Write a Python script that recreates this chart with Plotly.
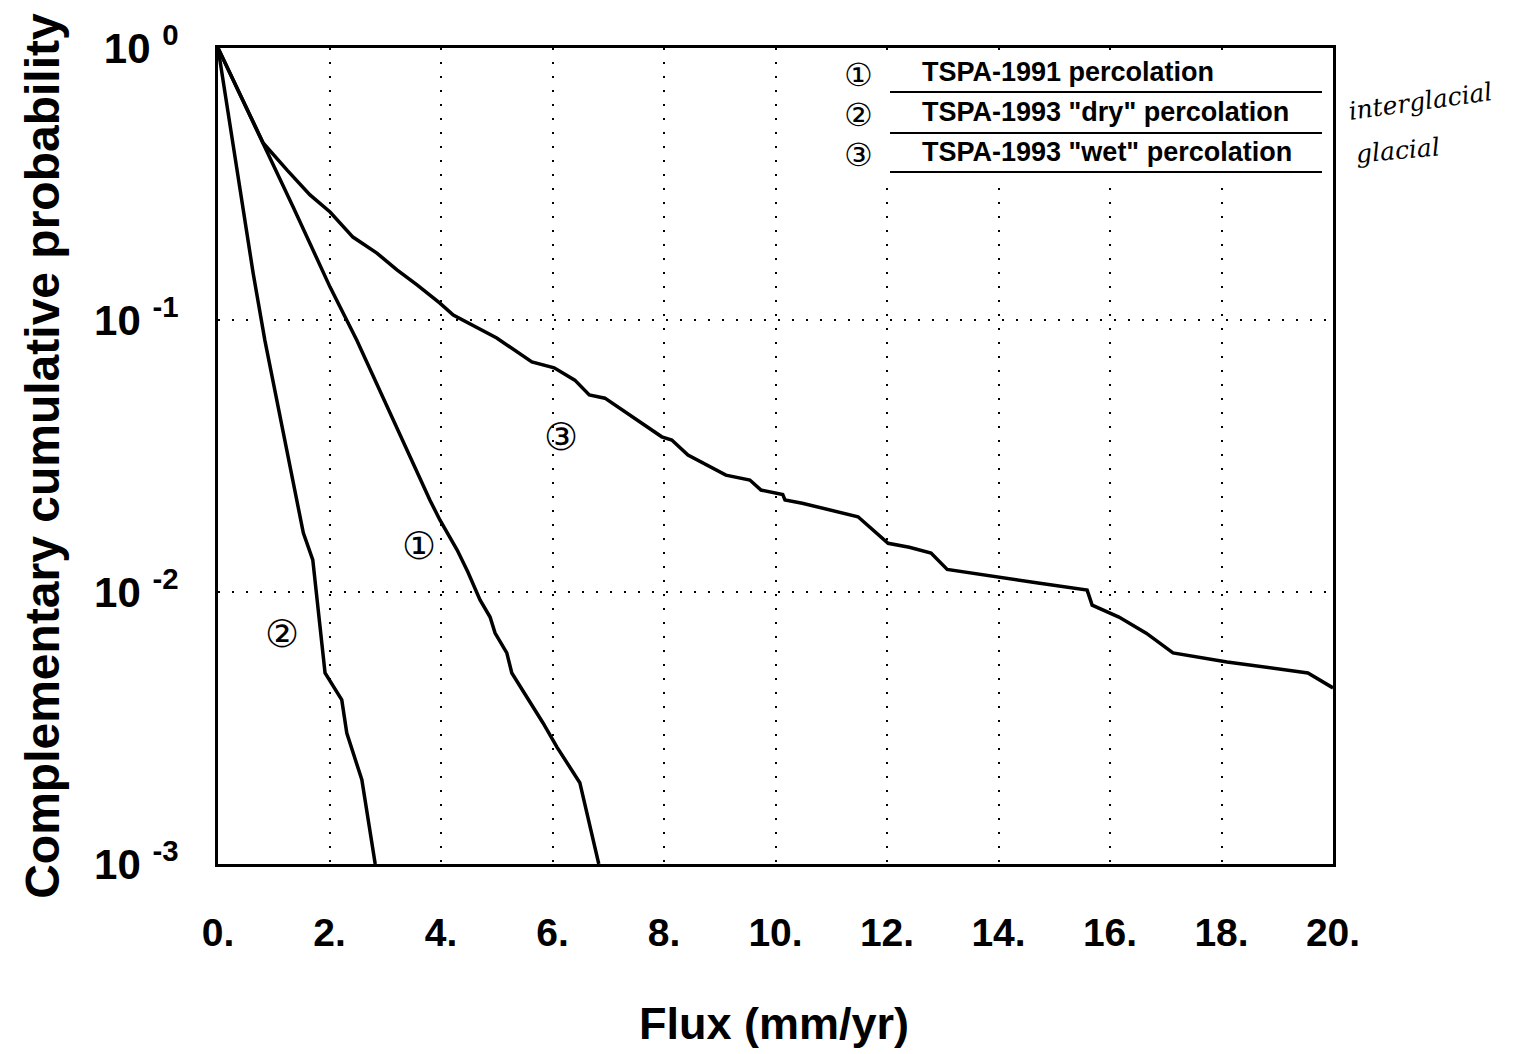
import math
import plotly.graph_objects as go

# ---------------- data ----------------
series_names = ['TSPA-1991 percolation', 'TSPA-1993 "dry" percolation', 'TSPA-1993 "wet" percolation']
series_marks = ["①", "②", "③"]

flux_1991 = [0, 0.81, 1.35, 2.01, 2.49, 3.80, 3.98, 4.29, 4.48, 4.70, 4.88, 4.97,
             5.18, 5.27, 5.54, 5.83, 6.08, 6.49, 6.83]
ccdf_1991 = [1.0, 0.4477, 0.2600, 0.1321, 0.0843, 0.0218, 0.0184, 0.01426, 0.01186,
             0.00935, 0.00809, 0.00706, 0.00597, 0.00504, 0.00411, 0.00330, 0.00269,
             0.00199, 0.001]

flux_dry = [0, 0.40, 0.63, 0.84, 1.42, 1.53, 1.70, 1.78, 1.87, 1.92, 2.22, 2.31, 2.58, 2.82]
ccdf_dry = [1.0, 0.3006, 0.1489, 0.0843, 0.0218, 0.0165, 0.01312, 0.00935, 0.00628,
            0.00504, 0.00401, 0.00303, 0.00204, 0.001]

flux_wet = [0, 0.81, 1.24, 1.65, 2.01, 2.42, 2.85, 3.21, 3.57, 3.98, 4.22, 4.65, 5.00,
            5.63, 6.03, 6.40, 6.66, 6.94, 7.37, 7.96, 8.14, 8.43, 9.11, 9.54, 9.74,
            10.13, 10.17, 10.48, 11.48, 11.82, 12.02, 12.40, 12.79, 13.08, 13.94,
            14.71, 15.59, 15.68, 16.16, 16.65, 17.13, 18.10, 19.55, 20.0]
ccdf_wet = [1.0, 0.4477, 0.3556, 0.2884, 0.2495, 0.2018, 0.1762, 0.1528, 0.1346,
            0.1153, 0.1042, 0.0935, 0.0859, 0.0701, 0.0667, 0.0601, 0.0530, 0.0516,
            0.0448, 0.0372, 0.0362, 0.0319, 0.0269, 0.0258, 0.0237, 0.0228, 0.0218,
            0.0212, 0.0189, 0.0165, 0.0151, 0.0146, 0.0139, 0.0121, 0.01135, 0.01079,
            0.01016, 0.00895, 0.00809, 0.00706, 0.00597, 0.00553, 0.00504, 0.00444]

x_tickvals = [0, 2, 4, 6, 8, 10, 12, 14, 16, 18, 20]
x_ticktext = ["0.", "2.", "4.", "6.", "8.", "10.", "12.", "14.", "16.", "18.", "20."]
y_tickvals = [0.001, 0.01, 0.1, 1]
y_ticktext = ["10 <sup>-3</sup>", "10 <sup>-2</sup>", "10 <sup>-1</sup>", "10 <sup>0</sup>"]

# in-plot curve labels (data coords: flux, probability)
curve_label_x = [3.6, 1.15, 6.15]
curve_label_y = [0.0148, 0.0070, 0.037]

notes = ["interglacial", "glacial"]

# ---------------- figure ----------------
FONT = "Liberation Sans, Arial, Helvetica, sans-serif"
fig = go.Figure()
for xs, ys, name in [(flux_1991, ccdf_1991, series_names[0]),
                     (flux_dry, ccdf_dry, series_names[1]),
                     (flux_wet, ccdf_wet, series_names[2])]:
    fig.add_trace(go.Scatter(x=xs, y=ys, mode="lines", name=name,
                             line=dict(color="black", width=3.5), showlegend=False))

fig.update_layout(
    width=1532, height=1054,
    margin=dict(l=218, r=199, t=48, b=190),
    paper_bgcolor="white", plot_bgcolor="white",
    font=dict(family=FONT, color="black"),
)
fig.update_xaxes(
    range=[0, 20], tickvals=x_tickvals, ticktext=x_ticktext,
    tickfont=dict(family=FONT, size=39, weight="bold", color="black"),
    ticks="", ticklabelstandoff=32,
    showgrid=True, gridcolor="black", gridwidth=2, griddash="2px,12px",
    showline=True, linecolor="black", linewidth=3, mirror=True, zeroline=False,
)
fig.update_yaxes(
    type="log", range=[-3, 0], tickvals=y_tickvals, ticktext=y_ticktext,
    tickfont=dict(family=FONT, size=42, weight="bold", color="black"),
    ticks="", ticklabelstandoff=28,
    showgrid=True, gridcolor="black", gridwidth=2, griddash="2px,12px",
    showline=True, linecolor="black", linewidth=3, mirror=True, zeroline=False,
)

annotations = []
# axis titles
annotations.append(dict(text="<b>Flux (mm/yr)</b>", xref="paper", yref="paper",
                        x=0.4985, y=-0.195, xanchor="center", yanchor="middle",
                        showarrow=False, font=dict(family=FONT, size=45)))
annotations.append(dict(text="<b>Complementary cumulative probability</b>", xref="paper",
                        yref="paper", x=-0.158, y=0.5, xanchor="center", yanchor="middle",
                        textangle=-90, showarrow=False, font=dict(family=FONT, size=48)))

# legend: white box hiding grid, text with underline line samples
shapes = [dict(type="rect", xref="paper", yref="paper", x0=0.558, x1=0.996,
               y0=0.832, y1=0.997, fillcolor="white", line=dict(width=0),
               layer="above")]
leg_text_y = [0.9706, 0.9216, 0.8725]
leg_line_y = [0.9461, 0.8958, 0.8480]
for i, name in enumerate(series_names):
    annotations.append(dict(text="<b>" + name + "</b>", xref="paper",
                            yref="paper", x=0.6296, y=leg_text_y[i], xanchor="left",
                            yanchor="middle", showarrow=False,
                            font=dict(family=FONT, size=27)))
    annotations.append(dict(text=series_marks[i], xref="paper", yref="paper",
                            x=0.574, y=leg_text_y[i] - 0.004, xanchor="center",
                            yanchor="middle", showarrow=False,
                            font=dict(family="DejaVu Sans", size=32)))
    shapes.append(dict(type="line", xref="paper", yref="paper", x0=0.6027, x1=0.9901,
                       y0=leg_line_y[i], y1=leg_line_y[i],
                       line=dict(color="black", width=2), layer="above"))

# hand-written curve labels
for i in range(3):
    annotations.append(dict(text=series_marks[i], x=curve_label_x[i],
                            y=math.log10(curve_label_y[i]), xref="x", yref="y",
                            showarrow=False, font=dict(family="DejaVu Sans", size=38)))

# hand-written notes beside legend
annotations.append(dict(text=notes[0], xref="paper", yref="paper", x=1.010, y=0.935,
                        xanchor="left", yanchor="middle", showarrow=False, textangle=-8,
                        font=dict(family="DejaVu Serif", size=25, style="italic")))
annotations.append(dict(text=notes[1], xref="paper", yref="paper", x=1.018, y=0.874,
                        xanchor="left", yanchor="middle", showarrow=False, textangle=-5,
                        font=dict(family="DejaVu Serif", size=25, style="italic")))

fig.update_layout(annotations=annotations, shapes=shapes)
fig.write_html("out.html")
